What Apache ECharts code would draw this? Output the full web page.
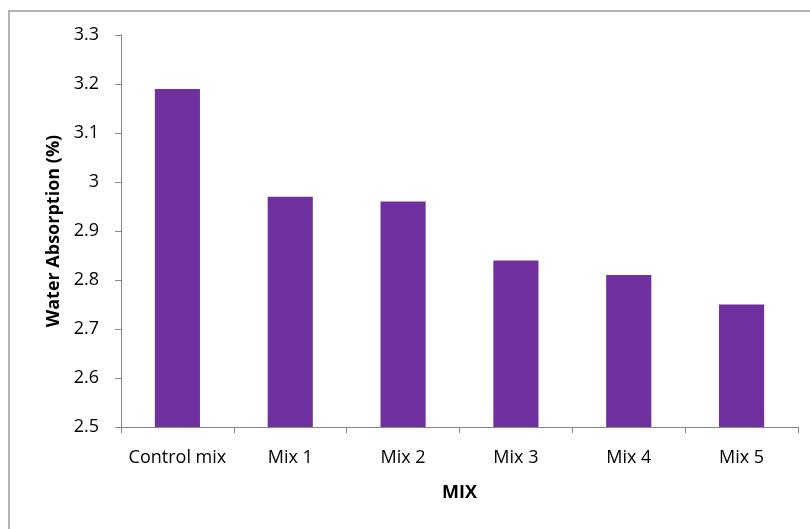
<!DOCTYPE html>
<html>
<head>
<meta charset="utf-8">
<script src="https://cdn.jsdelivr.net/npm/echarts@6/dist/echarts.min.js"></script>
<style>
  html, body { margin: 0; padding: 0; background: #fff; }
  #chart { width: 810px; height: 529px; }
</style>
</head>
<body>
<div id="chart"></div>
<script>
// Water absorption of each concrete mix
const mixes = ['Control mix', 'Mix 1', 'Mix 2', 'Mix 3', 'Mix 4', 'Mix 5'];
const absorption = [3.19, 2.97, 2.96, 2.84, 2.81, 2.75];
const yTicks = [2.5, 2.6, 2.7, 2.8, 2.9, 3, 3.1, 3.2, 3.3];

const FONT = '"Open Sans", "Liberation Sans", sans-serif';
const chart = echarts.init(document.getElementById('chart'));

chart.setOption({
  animation: false,
  backgroundColor: '#ffffff',
  graphic: [{
    type: 'rect',
    shape: { x: 9, y: 11, width: 900, height: 600 },
    style: { fill: 'none', stroke: '#b3b3b3', lineWidth: 2 },
    silent: true,
    z: -1
  }],
  grid: { left: 121, top: 35, right: 12, bottom: 102, containLabel: false },
  xAxis: {
    type: 'category',
    data: mixes,
    name: 'MIX',
    nameLocation: 'middle',
    nameGap: 57,
    nameTextStyle: { fontFamily: FONT, fontSize: 18, fontWeight: 'bold', color: '#000' },
    axisLine: { lineStyle: { color: '#868686', width: 1 } },
    axisTick: { show: true, interval: 0, length: 6, alignWithLabel: false, lineStyle: { color: '#868686' } },
    axisLabel: { interval: 0, hideOverlap: false, margin: 22, fontFamily: FONT, fontSize: 18, color: '#000' }
  },
  yAxis: {
    type: 'value',
    min: yTicks[0],
    max: yTicks[yTicks.length - 1],
    interval: 0.1,
    name: 'Water Absorption (%)',
    nameLocation: 'middle',
    nameGap: 57,
    nameTextStyle: { fontFamily: FONT, fontSize: 18, fontWeight: 'bold', color: '#000' },
    axisLine: { show: true, lineStyle: { color: '#868686', width: 1 } },
    axisTick: { show: true, length: 6, lineStyle: { color: '#868686' } },
    splitLine: { show: false },
    axisLabel: {
      margin: 22,
      fontFamily: FONT,
      fontSize: 18,
      color: '#000',
      formatter: v => String(Math.round(v * 10) / 10)
    }
  },
  series: [{
    type: 'bar',
    data: absorption,
    barWidth: '40%',
    itemStyle: { color: '#7030a0' }
  }]
});
</script>
</body>
</html>
